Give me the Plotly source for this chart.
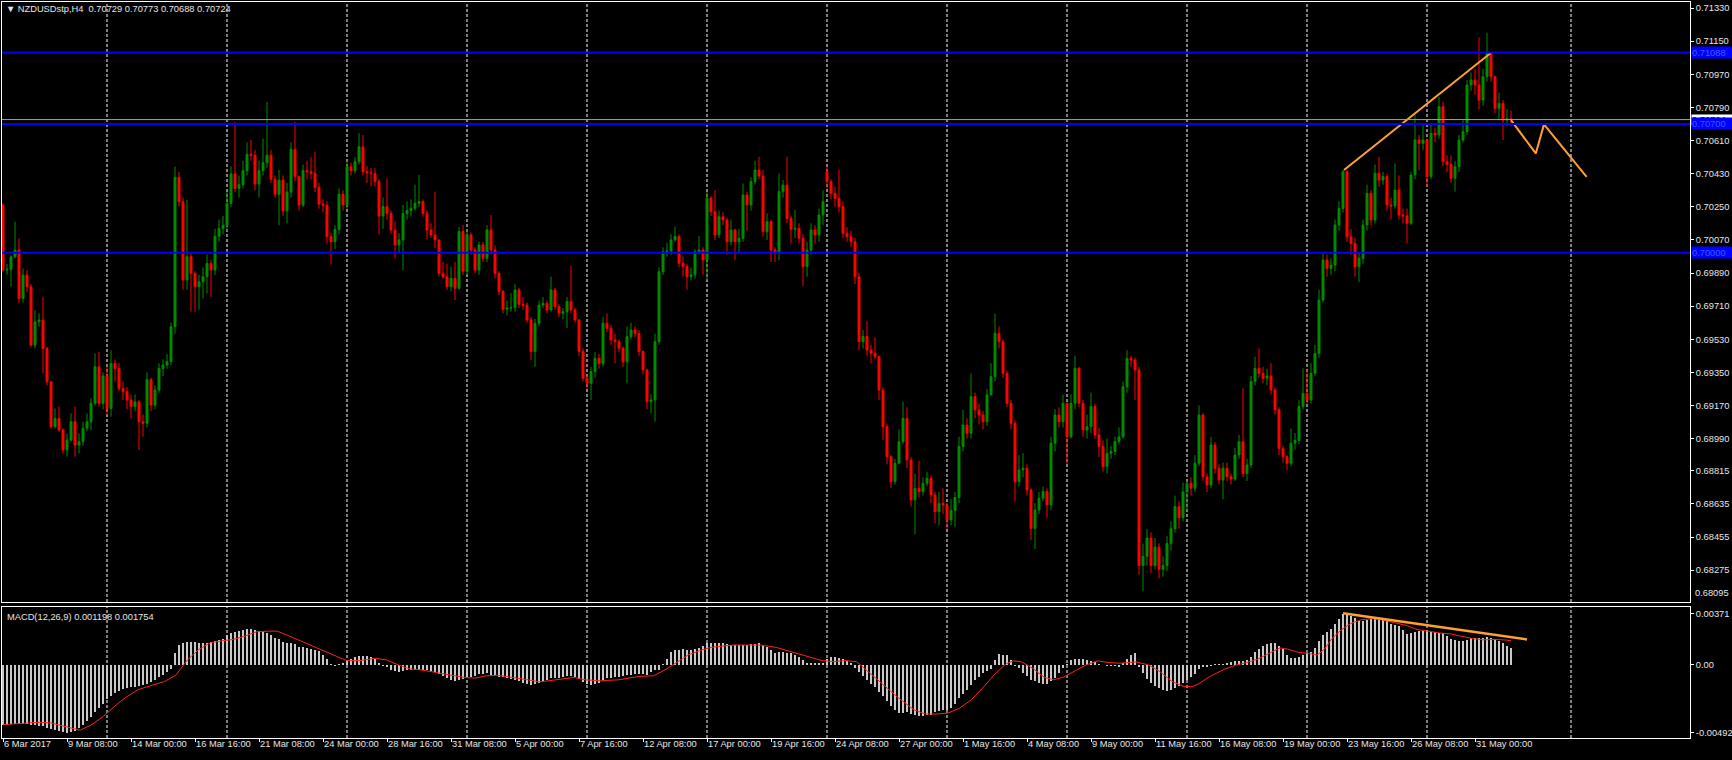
import plotly.graph_objects as go

# ---------------- price data (H4 bars, index 0 = 6 Mar 2017 16:00) ----------------
first_open = 0.70259
gap_opens = {206: 0.70440}

closes = [
.69906,.69910,.69978,.70015,.69752,.69879,.69815,.69498,.69625,.69634,
.69480,.69299,.69055,.69100,.69037,.68928,.68982,.69082,.68955,.68973,
.69046,.69082,.69182,.69381,.69182,.69330,.69154,.69398,.69371,.69262,
.69245,.69200,.69164,.69190,.69082,.69073,.69310,.69172,.69254,.69371,
.69390,.69408,.69598,.70410,.70278,.69852,.69979,.69888,.69815,.69843,
.69870,.69942,.69906,.70090,.70132,.70150,.70268,.70428,.70350,.70370,
.70446,.70535,.70530,.70374,.70446,.70490,.70530,.70400,.70318,.70395,
.70228,.70330,.70562,.70414,.70260,.70446,.70440,.70432,.70355,.70265,
.70258,.70088,.70060,.70127,.70318,.70260,.70468,.70446,.70495,.70576,
.70440,.70435,.70432,.70387,.70200,.70251,.70214,.70124,.70043,.70070,
.70214,.70230,.70242,.70269,.70278,.70214,.70124,.70097,.70070,.69888,
.69870,.69816,.69861,.69807,.70115,.69900,.70097,.70015,.69906,.70042,
.69970,.70124,.70015,.69888,.69789,.69693,.69700,.69702,.69798,.69720,
.69716,.69635,.69463,.69617,.69716,.69725,.69689,.69798,.69707,.69671,
.69680,.69735,.69689,.69635,.69463,.69318,.69291,.69354,.69426,.69399,
.69617,.69590,.69526,.69517,.69481,.69408,.69544,.69580,.69562,.69463,
.69363,.69191,.69200,.69517,.69897,.70006,.70010,.70070,.70088,.69943,
.69925,.69870,.69880,.70006,.70015,.69961,.70296,.70223,.70097,.70196,
.70178,.70060,.70124,.70060,.70079,.70314,.70260,.70387,.70450,.70417,
.70115,.70169,.70015,.70000,.70332,.70368,.70187,.70128,.70133,.70079,
.69925,.70015,.70124,.70097,.70205,.70278,.70387,.70323,.70296,.70251,
.70106,.70088,.70060,.69870,.69517,.69545,.69472,.69454,.69436,.69254,
.69055,.68892,.68756,.68856,.68973,.69100,.68874,.68657,.68720,.68702,
.68747,.68774,.68684,.68593,.68638,.68629,.68548,.68600,.68670,.68947,
.69064,.69019,.69218,.69146,.69118,.69082,.69227,.69327,.69562,.69517,
.69345,.69182,.69073,.68756,.68820,.68829,.68711,.68502,.68602,.68666,
.68702,.68630,.68965,.69118,.69082,.69182,.69000,.69182,.69372,.69182,
.69037,.69055,.69164,.69010,.68947,.68838,.68910,.68920,.68974,.69000,
.69272,.69426,.69417,.69363,.68300,.68350,.68450,.68300,.68400,.68280,
.68300,.68420,.68500,.68620,.68560,.68700,.68747,.68720,.68856,.69118,
.68783,.68738,.68955,.68829,.68765,.68829,.68783,.68770,.68901,.68973,
.68801,.68847,.69300,.69372,.69345,.69318,.69330,.69255,.69147,.68937,
.68892,.68856,.68965,.68980,.69164,.69236,.69200,.69345,.69453,.69743,
.69961,.69915,.69933,.70151,.70241,.70441,.70087,.70051,.69924,.69970,
.70151,.70323,.70178,.70432,.70395,.70414,.70260,.70255,.70341,.70205,
.70200,.70160,.70423,.70613,.70595,.70613,.70414,.70649,.70640,.70794,
.70495,.70480,.70405,.70468,.70613,.70658,.70912,.70939,.70912,.70830,
.70957,.71084,.70957,.70785,.70812,.70722,.70729,.70724]

highs = [
.70268,.69940,.69987,.70169,.70078,.69915,.69906,.69830,.69689,.69671,
.69761,.69489,.69299,.69154,.69164,.69046,.69018,.69127,.69164,.69018,
.69082,.69127,.69209,.69453,.69462,.69350,.69380,.69470,.69420,.69400,
.69300,.69270,.69230,.69230,.69200,.69120,.69350,.69320,.69280,.69400,
.69420,.69450,.69620,.70468,.70440,.70300,.70287,.70000,.69900,.69880,
.69920,.69990,.69960,.70130,.70180,.70200,.70330,.70470,.70712,.70420,
.70500,.70600,.70613,.70560,.70500,.70620,.70820,.70560,.70420,.70450,
.70420,.70380,.70600,.70712,.70420,.70480,.70500,.70520,.70550,.70380,
.70290,.70280,.70110,.70150,.70350,.70340,.70500,.70490,.70520,.70650,
.70640,.70470,.70460,.70460,.70400,.70300,.70405,.70230,.70170,.70106,
.70260,.70280,.70290,.70370,.70423,.70290,.70230,.70160,.70332,.70070,
.69950,.69940,.69925,.69950,.70140,.70151,.70130,.70110,.70030,.70060,
.70060,.70150,.70205,.70040,.69900,.69800,.69740,.69780,.69830,.69810,
.69760,.69730,.69650,.69640,.69740,.69760,.69740,.69870,.69810,.69720,
.69700,.69760,.69930,.69700,.69640,.69480,.69330,.69380,.69460,.69450,
.69650,.69671,.69610,.69560,.69530,.69490,.69600,.69620,.69600,.69580,
.69470,.69370,.69230,.69560,.69920,.70030,.70055,.70100,.70142,.70100,
.69980,.69940,.69920,.70020,.70090,.70030,.70330,.70310,.70341,.70230,
.70220,.70190,.70180,.70130,.70130,.70377,.70330,.70410,.70500,.70522,
.70450,.70215,.70180,.70030,.70432,.70395,.70522,.70200,.70233,.70160,
.70100,.70060,.70160,.70150,.70240,.70340,.70470,.70400,.70360,.70450,
.70280,.70140,.70120,.70080,.69890,.69580,.69630,.69500,.69540,.69440,
.69270,.69070,.68900,.68880,.69040,.69190,.69160,.68890,.68800,.68870,
.68780,.68810,.68790,.68700,.68700,.68720,.68640,.68660,.68700,.69000,
.69146,.69100,.69345,.69240,.69180,.69140,.69260,.69400,.69670,.69600,
.69530,.69360,.69200,.69090,.68900,.68910,.68850,.68720,.68640,.68700,
.68730,.68720,.69000,.69150,.69160,.69230,.69100,.69230,.69440,.69380,
.69200,.69120,.69240,.69180,.69050,.68980,.68990,.68950,.69000,.69050,
.69300,.69470,.69440,.69430,.69380,.68420,.68500,.68480,.68450,.68420,
.68350,.68460,.68540,.68680,.68650,.68750,.68760,.68780,.68900,.69170,
.69130,.68800,.69000,.68970,.68850,.68860,.68860,.68800,.68940,.69010,
.69263,.68880,.69330,.69435,.69480,.69380,.69370,.69400,.69270,.69160,
.68950,.68900,.69045,.69020,.69200,.69372,.69363,.69400,.69500,.69800,
.70000,.69990,.69970,.70180,.70280,.70450,.70450,.70130,.70080,.70000,
.70180,.70370,.70340,.70480,.70522,.70440,.70430,.70300,.70486,.70420,
.70240,.70240,.70440,.70749,.70640,.70700,.70620,.70700,.70680,.70848,
.70820,.70530,.70530,.70500,.70640,.70720,.70940,.70980,.71000,.71170,
.71000,.71196,.71090,.70960,.70870,.70830,.70780,.70773]

lows = [
.69897,.69880,.69815,.69970,.69725,.69730,.69788,.69489,.69480,.69598,
.69344,.69280,.69046,.69046,.69028,.68910,.68892,.68975,.68892,.68910,
.68950,.69030,.69037,.69170,.69164,.69150,.69120,.69110,.69300,.69250,
.69200,.69150,.69100,.69140,.68928,.69000,.69050,.69140,.69150,.69240,
.69330,.69370,.69390,.69560,.70250,.69800,.69800,.69680,.69680,.69690,
.69750,.69780,.69760,.69880,.70060,.70100,.70120,.70250,.70330,.70300,
.70350,.70420,.70500,.70340,.70300,.70420,.70460,.70380,.70300,.70150,
.70200,.70160,.70300,.70390,.70230,.70250,.70400,.70400,.70330,.70240,
.70220,.70050,.69935,.70020,.70100,.70230,.70240,.70420,.70430,.70480,
.70420,.70380,.70360,.70360,.70100,.70130,.70180,.70106,.69970,.70000,
.69906,.70180,.70196,.70230,.70250,.70196,.70074,.70080,.70025,.69870,
.69860,.69798,.69790,.69743,.69800,.69880,.69880,.69990,.69890,.69880,
.69950,.69950,.69990,.69860,.69770,.69670,.69660,.69680,.69680,.69700,
.69690,.69620,.69417,.69380,.69600,.69700,.69670,.69680,.69690,.69650,
.69640,.69590,.69670,.69620,.69440,.69300,.69260,.69200,.69320,.69370,
.69380,.69570,.69500,.69400,.69460,.69380,.69291,.69530,.69540,.69440,
.69340,.69150,.69127,.69082,.69500,.69880,.69979,.69990,.70060,.69920,
.69870,.69800,.69850,.69860,.69990,.69880,.69852,.70200,.70070,.70080,
.70150,.69990,.70040,.69960,.70000,.70060,.70120,.70230,.70370,.70400,
.70088,.70070,.69950,.69950,.69960,.70300,.70160,.70050,.70080,.70050,
.69820,.69870,.69990,.70050,.70060,.70150,.70350,.70290,.70250,.70220,
.70080,.70060,.70030,.69830,.69470,.69480,.69440,.69400,.69420,.69200,
.68983,.68850,.68720,.68740,.68850,.68960,.68830,.68620,.68470,.68670,
.68680,.68730,.68640,.68530,.68520,.68580,.68500,.68520,.68510,.68640,
.68920,.68990,.68990,.69100,.69070,.69040,.69060,.69300,.69300,.69480,
.69320,.69160,.69040,.68650,.68730,.68780,.68680,.68440,.68390,.68580,
.68650,.68560,.68600,.68920,.69050,.69050,.68850,.68990,.69150,.69160,
.69000,.68990,.69020,.68990,.68890,.68810,.68800,.68880,.68900,.68960,
.68990,.69240,.69380,.69200,.68250,.68160,.68300,.68260,.68280,.68230,
.68240,.68270,.68380,.68480,.68500,.68540,.68600,.68680,.68700,.68840,
.68760,.68700,.68720,.68800,.68740,.68660,.68760,.68740,.68760,.68880,
.68780,.68760,.68830,.69280,.69320,.69290,.69280,.69230,.69120,.68900,
.68860,.68820,.68840,.68930,.68960,.69150,.69180,.69180,.69330,.69430,
.69730,.69870,.69880,.69900,.70120,.70220,.70060,.69990,.69870,.69840,
.69940,.70120,.70150,.70160,.70360,.70370,.70230,.70180,.70240,.70180,
.70160,.70051,.70150,.70400,.70450,.70560,.70359,.70400,.70600,.70620,
.70470,.70440,.70380,.70332,.70440,.70600,.70640,.70880,.70860,.70780,
.70800,.70930,.70930,.70760,.70720,.70613,.70690,.70688]

# ---------------- MACD(12,26,9) ----------------
macd_hist = [
-0.00433,-0.00435,-0.00432,-0.00428,-0.00430,-0.00425,-0.00428,-0.00435,-0.00438,-0.00440,
-0.00446,-0.00455,-0.00465,-0.00475,-0.00481,-0.00488,-0.00493,-0.00490,-0.00481,-0.00460,
-0.00435,-0.00409,-0.00378,-0.00345,-0.00313,-0.00282,-0.00250,-0.00228,-0.00204,-0.00190,
-0.00178,-0.00168,-0.00160,-0.00157,-0.00155,-0.00145,-0.00138,-0.00122,-0.00108,-0.00088,
-0.00070,-0.00050,-0.00028,0.00084,0.00144,0.00158,0.00165,0.00168,0.00165,0.00161,
0.00160,0.00162,0.00166,0.00172,0.00178,0.00190,0.00215,0.00232,0.00238,0.00243,
0.00250,0.00258,0.00264,0.00250,0.00244,0.00240,0.00228,0.00214,0.00198,0.00186,
0.00165,0.00160,0.00158,0.00150,0.00132,0.00127,0.00122,0.00118,0.00108,0.00098,
0.00075,0.00040,0.00010,-0.00006,0.00005,0.00015,0.00028,0.00042,0.00055,0.00062,
0.00065,0.00062,0.00058,0.00042,0.00015,-0.00005,-0.00015,-0.00034,-0.00044,-0.00048,
-0.00045,-0.00040,-0.00038,-0.00036,-0.00036,-0.00035,-0.00038,-0.00042,-0.00052,-0.00066,
-0.00082,-0.00096,-0.00110,-0.00120,-0.00108,-0.00102,-0.00096,-0.00090,-0.00080,-0.00068,
-0.00065,-0.00062,-0.00070,-0.00075,-0.00084,-0.00090,-0.00096,-0.00102,-0.00108,-0.00118,
-0.00132,-0.00138,-0.00144,-0.00140,-0.00132,-0.00120,-0.00108,-0.00098,-0.00096,-0.00092,
-0.00089,-0.00082,-0.00079,-0.00090,-0.00102,-0.00125,-0.00138,-0.00144,-0.00140,-0.00132,
-0.00110,-0.00096,-0.00092,-0.00089,-0.00085,-0.00079,-0.00075,-0.00072,-0.00068,-0.00065,
-0.00068,-0.00072,-0.00050,-0.00036,-0.00036,0.00007,0.00041,0.00096,0.00108,0.00110,
0.00113,0.00111,0.00108,0.00112,0.00120,0.00135,0.00156,0.00160,0.00161,0.00161,
0.00160,0.00150,0.00144,0.00144,0.00144,0.00144,0.00146,0.00151,0.00155,0.00161,
0.00145,0.00132,0.00110,0.00089,0.00092,0.00096,0.00090,0.00084,0.00072,0.00060,
0.00038,0.00017,0.00012,0.00012,0.00015,0.00017,0.00040,0.00055,0.00055,0.00050,
0.00041,0.00030,0.00012,-0.00024,-0.00048,-0.00080,-0.00108,-0.00135,-0.00161,-0.00195,
-0.00228,-0.00265,-0.00300,-0.00325,-0.00349,-0.00346,-0.00344,-0.00355,-0.00361,-0.00368,
-0.00373,-0.00365,-0.00361,-0.00345,-0.00337,-0.00328,-0.00325,-0.00313,-0.00285,-0.00240,
-0.00210,-0.00180,-0.00145,-0.00108,-0.00085,-0.00060,-0.00045,-0.00031,0.00036,0.00077,
0.00075,0.00072,0.00036,-0.00010,-0.00024,-0.00055,-0.00080,-0.00108,-0.00120,-0.00132,
-0.00135,-0.00137,-0.00115,-0.00096,-0.00060,-0.00024,0.00005,0.00036,0.00040,0.00043,
0.00040,0.00036,0.00030,0.00024,0.00010,0.00000,-0.00005,-0.00007,-0.00010,-0.00012,
0.00012,0.00045,0.00070,0.00084,-0.00012,-0.00060,-0.00100,-0.00130,-0.00150,-0.00170,
-0.00185,-0.00191,-0.00182,-0.00168,-0.00155,-0.00132,-0.00110,-0.00090,-0.00069,-0.00027,
-0.00017,-0.00012,-0.00007,0.00005,0.00005,0.00010,0.00015,0.00022,0.00026,0.00029,
0.00029,0.00037,0.00060,0.00095,0.00115,0.00140,0.00150,0.00157,0.00157,0.00140,
0.00115,0.00071,0.00050,0.00047,0.00054,0.00071,0.00085,0.00096,0.00120,0.00176,
0.00220,0.00238,0.00262,0.00300,0.00336,0.00371,0.00365,0.00352,0.00341,0.00316,
0.00320,0.00324,0.00336,0.00331,0.00336,0.00330,0.00316,0.00299,0.00290,0.00282,
0.00250,0.00225,0.00230,0.00238,0.00245,0.00250,0.00250,0.00240,0.00238,0.00235,
0.00230,0.00212,0.00190,0.00178,0.00170,0.00176,0.00184,0.00192,0.00196,0.00198,
0.00198,0.00200,0.00196,0.00190,0.00175,0.00158,0.00140,0.001198]

signal_x = [0,5,9,12,14.6,17,19.3,22.2,25.1,27.9,30.8,33.7,37.5,40.4,43.3,46.1,49,51.9,54.8,57.6,
            60.5,63.4,66.2,68.6,72,75.8,79.6,83.5,85.9,89.2,93,95.9,98.8,101.7,104.5,108.3,112.1,115,
            117.9,120.8,123.7,127.5,131.3,134.2,137,139.9,142.8,145.7,149.3,154,158.8,162.6,165.5,
            168.4,171.3,174.1,177,179.9,182.7,185.6,189.4,193.3,197.1,200.9,204.8,207.6,210.5,213.4,
            216.2,220.1,223.9,227.7,230.6,233.5,236.3,239.2,242.1,244.9,247.8,250.7,252.6,254.5,
            257.4,260.3,262.6,265.1,268,270.8,273.7,276.5,279.4,283.2,286.4,289.3,292.2,295,297.3,
            299,301.6,305.3,308.1,310.9,313.7,316.4,319.2,321.1,323.9,326.6,328.5,330.4,332.2,334.1,
            336.8,339.6,342.4,345.2,348,350.8,353.5,356.3,359.1,361.9,364.7,367.5,370.2,373,375.8,377]
signal_v = [-0.00433,-0.00425,-0.00416,-0.00421,-0.0044,-0.00457,-0.00474,-0.00433,-0.00373,-0.003,
            -0.00233,-0.0018,-0.00144,-0.0012,-0.00072,0.00036,0.00113,0.00161,0.00175,0.00185,
            0.00209,0.0024,0.00245,0.00245,0.00204,0.00156,0.00113,0.0006,0.00031,0.00031,0.00048,
            0.00036,0.0,-0.00029,-0.00036,-0.00055,-0.00072,-0.00089,-0.00096,-0.00079,-0.00075,
            -0.00089,-0.00108,-0.00123,-0.00113,-0.00103,-0.00091,-0.00108,-0.00115,-0.00108,-0.00084,
            -0.00079,-0.00036,0.00017,0.00072,0.00103,0.00127,0.00137,0.00144,0.00144,0.00144,0.00127,
            0.00096,0.0006,0.00031,0.00024,0.00031,0.00024,-0.00048,-0.00144,-0.0024,-0.00325,-0.00356,
            -0.00356,-0.00349,-0.00313,-0.00252,-0.00168,-0.00072,0.00007,0.00029,0.00024,-0.00024,
            -0.00089,-0.00108,-0.00089,-0.00041,0.0,0.00029,0.00017,0.00012,0.00022,0.0,-0.0005,
            -0.00119,-0.00155,-0.00158,-0.00135,-0.00086,-0.00032,-0.00002,0.00017,0.00042,0.00083,
            0.00123,0.00115,0.00091,0.00083,0.00071,0.00115,0.00189,0.00243,0.00299,0.00328,0.00336,
            0.00324,0.00306,0.00287,0.00257,0.00243,0.00232,0.00225,0.00205,0.00190,0.00182,0.00185,
            0.00180,0.001754]

# ---------------- drawn objects ----------------
hlines_blue = [0.71088, 0.70700, 0.70000]
bid_price = 0.70724
trend_up_x, trend_up_y = [335.25, 372.0], [0.70450, 0.71087]
zigzag_x, zigzag_y = [377.0, 383.2, 385.25, 395.9], [0.70721, 0.70540, 0.70698, 0.70413]
macd_trend_x, macd_trend_y = [335.0, 381.0], [0.00375, 0.00185]

price_ticks = [0.71330, 0.71150, 0.70970, 0.70790, 0.70610, 0.70430, 0.70250, 0.70070, 0.69890,
               0.69710, 0.69530, 0.69350, 0.69170, 0.68990, 0.68815, 0.68635, 0.68455, 0.68275]
macd_ticks = [0.00371, 0.0, -0.004926]
macd_tick_text = ["0.00371", "0.00", "-0.004926"]

time_labels = ["6 Mar 2017", "9 Mar 08:00", "14 Mar 00:00", "16 Mar 16:00", "21 Mar 08:00",
               "24 Mar 00:00", "28 Mar 16:00", "31 Mar 08:00", "5 Apr 00:00", "7 Apr 16:00",
               "12 Apr 08:00", "17 Apr 00:00", "19 Apr 16:00", "24 Apr 08:00", "27 Apr 00:00",
               "1 May 16:00", "4 May 08:00", "9 May 00:00", "11 May 16:00", "16 May 08:00",
               "19 May 00:00", "23 May 16:00", "26 May 08:00", "31 May 00:00"]
label_step = 16
week_grid = [26, 56, 86, 116, 146, 176, 206, 236, 266, 296, 326, 356, 392]

# ---------------- build ----------------
opens = [first_open] + closes[:-1]
for k, v in gap_opens.items():
    opens[k] = v
n = len(closes)
bars = list(range(n))
highs = [max(h, o, c) for h, o, c in zip(highs, opens, closes)]
lows = [min(l, o, c) for l, o, c in zip(lows, opens, closes)]

W, H = 1732, 760
ml, mr, mt, mb = 2, 42, 2, 22
ph = H - mt - mb
main_dom = [(H - mb - 602) / ph, 1.0]
macd_dom = [0.0, (H - mb - 607) / ph]
xr = [-0.25, 421.75]

FONT = "Liberation Sans, Arial, sans-serif"
FS = 9.3
TXT = "#E6E6E6"
GREEN = "#008C00"
RED = "#FF0000"

fig = go.Figure()
fig.add_trace(go.Candlestick(
    x=bars, open=opens, high=highs, low=lows, close=closes,
    increasing=dict(line=dict(color=GREEN, width=1), fillcolor=GREEN),
    decreasing=dict(line=dict(color=RED, width=1), fillcolor=RED),
    whiskerwidth=0, hoverinfo="skip", xaxis="x", yaxis="y", showlegend=False))

fig.add_trace(go.Scatter(x=trend_up_x, y=trend_up_y, mode="lines",
                         line=dict(color="#FFA033", width=2), xaxis="x", yaxis="y",
                         showlegend=False, hoverinfo="skip"))
fig.add_trace(go.Scatter(x=zigzag_x, y=zigzag_y, mode="lines",
                         line=dict(color="#FFA033", width=2), xaxis="x", yaxis="y",
                         showlegend=False, hoverinfo="skip"))

fig.add_trace(go.Bar(x=bars, y=macd_hist[:n], width=0.72, marker=dict(color="#C8C8C8", line=dict(width=0)),
                     xaxis="x2", yaxis="y2", showlegend=False, hoverinfo="skip"))
fig.add_trace(go.Scatter(x=signal_x, y=signal_v, mode="lines", line=dict(color="#FF2020", width=1),
                         xaxis="x2", yaxis="y2", showlegend=False, hoverinfo="skip"))
fig.add_trace(go.Scatter(x=macd_trend_x, y=macd_trend_y, mode="lines",
                         line=dict(color="#FFA033", width=2.5), xaxis="x2", yaxis="y2",
                         showlegend=False, hoverinfo="skip"))

shapes = []
for g in week_grid:
    for yr in ("y domain", "y2 domain"):
        shapes.append(dict(type="line", xref="x", yref=yr, x0=g, x1=g, y0=0, y1=1, layer="below",
                           line=dict(color="#FFFFFF", width=1, dash="3px,2px")))
shapes.append(dict(type="line", xref="x domain", yref="y", x0=0, x1=1, y0=bid_price, y1=bid_price,
                   line=dict(color="#A0A0A0", width=1)))
for hv in hlines_blue:
    shapes.append(dict(type="line", xref="x domain", yref="y", x0=0, x1=1, y0=hv, y1=hv,
                       line=dict(color="#0000FF", width=2)))

annotations = [
    dict(xref="paper", yref="paper", x=0, y=(H - mb - 9) / ph, xanchor="left", yanchor="middle",
         xshift=2, text="\u25BC NZDUSDstp,H4  0.70729 0.70773 0.70688 0.70724", showarrow=False,
         font=dict(family=FONT, size=FS, color=TXT)),
    dict(xref="paper", yref="paper", x=0, y=(H - mb - 617) / ph, xanchor="left", yanchor="middle",
         xshift=3, text="MACD(12,26,9) 0.001198 0.001754", showarrow=False,
         font=dict(family=FONT, size=FS, color=TXT)),
    dict(xref="paper", yref="y", x=1, y=0.68150, xanchor="left", yanchor="middle", xshift=3,
         text="0.68095", showarrow=False, font=dict(family=FONT, size=FS, color=TXT)),
    dict(xref="paper", yref="y", x=1, y=bid_price, xanchor="left", yanchor="middle", xshift=1,
         text="0.70724", showarrow=False, bgcolor="#FFFFFF", width=40, height=10, borderpad=0,
         align="left", font=dict(family=FONT, size=FS, color="#000000")),
]
for hv in hlines_blue:
    annotations.append(dict(xref="paper", yref="y", x=1, y=hv, xanchor="left", yanchor="middle",
                            xshift=1, text=f"{hv:.5f}", showarrow=False, bgcolor="#0000FF",
                            width=40, height=11, borderpad=0, align="left",
                            font=dict(family=FONT, size=FS, color="#3A5CFF")))

axis_common = dict(showgrid=False, zeroline=False, showline=True, linecolor="#FFFFFF",
                   linewidth=1, mirror=True, automargin=False)

fig.update_layout(
    width=W, height=H, paper_bgcolor="#000000", plot_bgcolor="#000000",
    margin=dict(l=ml, r=mr, t=mt, b=mb, autoexpand=False), showlegend=False, bargap=0,
    shapes=shapes, annotations=annotations, hovermode=False,
    xaxis=dict(domain=[0, 1], range=xr, anchor="y", showticklabels=False, ticks="",
               rangeslider=dict(visible=False), **axis_common),
    yaxis=dict(domain=main_dom, range=[0.68102, 0.71363], side="right", anchor="x",
               tickmode="array", tickvals=price_ticks, ticktext=[f"{v:.5f}" for v in price_ticks],
               ticks="outside", ticklen=3, tickcolor="#FFFFFF",
               tickfont=dict(family=FONT, size=FS, color=TXT), **axis_common),
    xaxis2=dict(domain=[0, 1], range=xr, anchor="y2", matches="x", tickangle=0,
                tickmode="array", tickvals=[i * label_step for i in range(len(time_labels))],
                ticktext=time_labels, ticks="outside", ticklen=3, tickcolor="#FFFFFF",
                ticklabelposition="outside right", ticklabelstandoff=-3,
                tickfont=dict(family=FONT, size=FS, color=TXT), **axis_common),
    yaxis2=dict(domain=macd_dom, range=[-0.0053, 0.0042], side="right", anchor="x2",
                tickmode="array", tickvals=macd_ticks, ticktext=macd_tick_text,
                ticks="outside", ticklen=3, tickcolor="#FFFFFF",
                tickfont=dict(family=FONT, size=FS, color=TXT), **axis_common),
)

fig.write_html("out.html", config={"displayModeBar": False, "staticPlot": True},
               post_script="document.body.style.margin='0';document.body.style.overflow='hidden';")
